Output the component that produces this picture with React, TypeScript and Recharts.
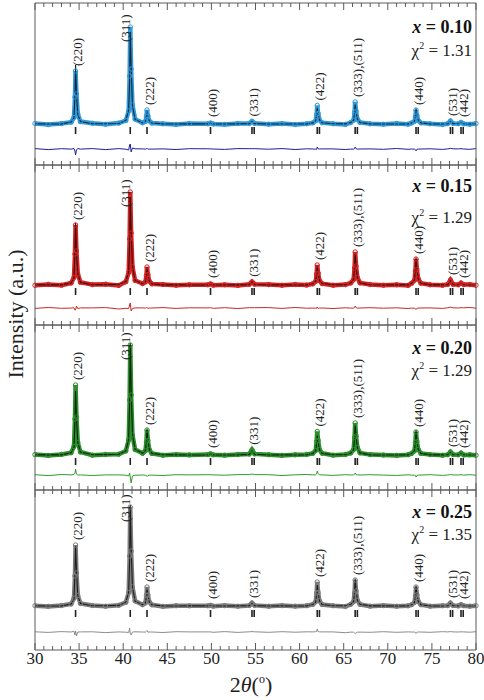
import { ComposedChart, Line, Scatter, XAxis, YAxis } from 'recharts';

// 2θ sampling grid (deg), shared by the four refinements
const twoTheta = [
  30.0, 31.5, 33.0,
  34.1, 34.42, 34.53, 34.6, 34.7, 34.85, 35.15,
  36.5, 38.0, 39.5,
  40.3, 40.62, 40.73, 40.8, 40.9, 41.05, 41.35,
  42.2, 42.52, 42.63, 42.7, 42.8, 42.95, 43.25,
  44.5, 46.0, 47.5,
  49.6, 49.9, 50.2,
  51.5, 53.0,
  54.3, 54.6, 54.9,
  56.5, 58.0, 59.5, 60.8,
  61.5, 61.83, 61.93, 62.0, 62.1, 62.25, 62.55,
  63.8, 65.2,
  65.8, 66.13, 66.23, 66.3, 66.4, 66.55, 66.85,
  68.0, 69.5, 71.0, 72.3,
  72.7, 73.03, 73.13, 73.2, 73.3, 73.45, 73.75,
  74.8, 76.2,
  76.8, 77.1, 77.4,
  78.0, 78.3, 78.6,
  79.3, 80.0,
];

// x = 0.10
const obs010 = [
  0.5, -0.6, 0.4,
  1.8, 6.5, 27, 53, 30, 10, 2.4,
  0.7, -0.3, 0.9,
  3.4, 13, 48, 97, 55, 19, 4.8,
  1.2, 2.5, 7.5, 14, 8.2, 3.1, 0.9,
  0.2, -0.5, 0.4,
  0.3, 1.0, 0.1,
  -0.4, 0.5,
  0.6, 2.6, 0.7,
  -0.2, 0.4, -0.5, 0.3,
  1.1, 3.2, 9.5, 18.5, 10.5, 4.0, 1.3,
  0.3, -0.4,
  1.4, 3.8, 11.5, 22, 12.8, 4.9, 1.5,
  0.2, -0.3, 0.5, -0.2,
  1.0, 2.6, 7.3, 14, 8.5, 3.6, 1.1,
  0.3, -0.4,
  0.4, 3.0, 0.6,
  0.3, 1.6, 0.2,
  -0.3, 0.4,
];
const calc010 = [
  0.1, 0.0, 0.1,
  1.9, 6.0, 29, 59, 31, 9.5, 2.5,
  0.3, 0.3, 0.5,
  3.6, 14, 44, 92, 58, 18, 4.6,
  1.1, 2.6, 7.2, 13.2, 8.4, 3.2, 1.0,
  0.1, 0.0, 0.1,
  0.1, 0.9, 0.1,
  0.0, 0.1,
  0.3, 2.3, 0.4,
  0.0, 0.0, 0.0, 0.1,
  1.1, 3.4, 9.8, 16.5, 10.2, 4.0, 1.2,
  0.2, 0.1,
  1.5, 3.9, 11.0, 20, 12.5, 5.0, 1.5,
  0.1, 0.0, 0.0, 0.1,
  1.0, 2.8, 8.0, 15.8, 8.8, 3.7, 1.1,
  0.1, 0.0,
  0.3, 2.4, 0.4,
  0.2, 1.3, 0.2,
  0.0, 0.0,
];

// x = 0.15
const obs015 = [
  -0.3, 0.6, -0.2,
  2.0, 7.5, 31, 60, 34, 11, 2.7,
  0.4, 0.8, -0.4,
  3.2, 12.5, 46, 93, 52, 18, 4.5,
  1.4, 3.0, 9.5, 18, 10.5, 4.0, 1.1,
  0.5, -0.3, 0.2,
  0.2, 1.1, -0.2,
  0.3, -0.4,
  0.7, 3.2, 0.8,
  0.4, -0.3, 0.5, -0.1,
  1.2, 3.6, 11, 20, 11.8, 4.5, 1.4,
  -0.3, 0.4,
  2.0, 5.5, 17, 33, 19, 7.4, 2.1,
  0.5, -0.2, 0.3, -0.4,
  1.7, 4.8, 14, 26, 15.5, 6.2, 1.8,
  0.2, -0.3,
  0.6, 5.0, 0.7,
  0.2, 2.0, 0.4,
  0.5, -0.2,
];
const calc015 = [
  0.1, 0.1, 0.1,
  2.1, 7.2, 33, 62, 32, 11.5, 2.6,
  0.3, 0.4, 0.6,
  3.5, 13, 43, 88, 55, 18.5, 4.4,
  1.3, 3.1, 9.2, 17.5, 10.8, 4.1, 1.1,
  0.1, 0.1, 0.0,
  0.1, 0.8, 0.1,
  0.0, 0.1,
  0.4, 2.9, 0.5,
  0.0, 0.1, 0.0, 0.1,
  1.3, 3.8, 11.4, 19, 12.2, 4.6, 1.4,
  0.2, 0.2,
  2.1, 5.6, 16.5, 31, 18.6, 7.5, 2.1,
  0.2, 0.0, 0.1, 0.1,
  1.8, 5.0, 14.6, 27.5, 15.8, 6.3, 1.8,
  0.1, 0.1,
  0.4, 4.2, 0.5,
  0.2, 1.7, 0.2,
  0.0, 0.0,
];

// x = 0.20
const obs020 = [
  0.4, -0.5, 0.6,
  2.3, 8.5, 36, 70, 38, 12.5, 3.0,
  -0.2, 0.5, 0.8,
  4.0, 15, 55, 110, 60, 20, 5.4,
  1.7, 4.2, 13, 25, 14.5, 5.6, 1.5,
  -0.3, 0.4, 0.1,
  0.4, 1.2, 0.2,
  -0.2, 0.5,
  1.0, 5.2, 1.1,
  0.3, -0.4, 0.2, 0.6,
  1.6, 4.5, 13.5, 23.5, 14.6, 5.4, 1.7,
  -0.2, 0.5,
  2.0, 5.5, 17.5, 32, 19, 7.4, 2.1,
  0.4, -0.1, -0.4, 0.3,
  1.5, 4.2, 12.5, 23, 13.5, 5.5, 1.6,
  0.4, -0.3,
  0.3, 3.0, 0.5,
  0.2, 2.0, 0.1,
  0.3, -0.2,
];
const calc020 = [
  0.1, 0.1, 0.1,
  2.2, 8.0, 34, 64, 37, 12.5, 2.9,
  0.3, 0.4, 0.7,
  4.2, 16, 53, 112, 68, 21, 5.6,
  1.7, 4.4, 13.5, 26.5, 15, 5.8, 1.6,
  0.2, 0.1, 0.0,
  0.1, 0.9, 0.1,
  0.0, 0.1,
  0.6, 4.2, 0.7,
  0.0, 0.1, 0.0, 0.1,
  1.5, 4.3, 12.5, 19.5, 13.0, 5.2, 1.6,
  0.2, 0.2,
  2.0, 5.4, 16.8, 30, 18.6, 7.3, 2.1,
  0.1, 0.0, 0.0, 0.1,
  1.6, 4.4, 13, 25, 14, 5.6, 1.6,
  0.1, 0.1,
  0.3, 2.6, 0.4,
  0.2, 1.7, 0.2,
  0.0, 0.0,
];

// x = 0.25
const obs025 = [
  0.3, -0.4, 0.5,
  2.0, 7.8, 30, 61, 33, 10.5, 2.6,
  0.5, -0.3, 0.7,
  3.6, 13.5, 50, 99, 55, 19, 5.0,
  1.3, 3.0, 10.5, 19, 11, 4.2, 1.2,
  -0.4, 0.3, 0.2,
  0.2, 0.7, -0.2,
  0.4, -0.3,
  0.5, 3.0, 0.6,
  -0.3, 0.4, -0.2, 0.3,
  1.5, 4.3, 13, 24, 13.5, 5.2, 1.5,
  0.3, -0.5,
  1.6, 4.4, 13, 26, 15, 5.6, 1.6,
  -0.2, 0.4, -0.3, 0.2,
  1.3, 3.5, 10, 19, 11.3, 4.6, 1.3,
  -0.2, 0.3,
  0.4, 3.0, 0.5,
  0.1, 1.5, 0.3,
  -0.2, 0.3,
];
const calc025 = [
  0.1, 0.0, 0.1,
  2.0, 7.0, 33, 60, 37, 10.5, 2.5,
  0.3, 0.3, 0.6,
  3.8, 14, 46, 101, 58, 19, 4.8,
  1.3, 3.1, 9.8, 17.5, 11.2, 4.2, 1.2,
  0.1, 0.0, 0.1,
  0.1, 0.6, 0.1,
  0.0, 0.1,
  0.3, 2.6, 0.4,
  0.0, 0.1, 0.0, 0.1,
  1.4, 4.0, 12.4, 21, 13.2, 5.0, 1.4,
  0.2, 0.2,
  1.7, 4.6, 14, 27.5, 16, 5.8, 1.7,
  0.1, 0.1, 0.0, 0.1,
  1.3, 3.6, 10.4, 20.5, 11.6, 4.6, 1.3,
  0.1, 0.0,
  0.3, 2.6, 0.4,
  0.1, 1.3, 0.2,
  0.0, 0.0,
];

const observed = [obs010, obs015, obs020, obs025];
const calculated = [calc010, calc015, calc020, calc025];

// reflections: Kα1 positions, plus Kα2 partners resolved at high angle
const hkl = ['(220)', '(311)', '(222)', '(400)', '(331)', '(422)', '(333),(511)', '(440)', '(531)', '(442)'];
const braggPos = [34.6, 40.8, 42.7, 49.9, 54.6, 62.0, 66.3, 73.2, 77.1, 78.3];
const braggK2 = [54.85, 62.25, 66.55, 73.45, 77.35, 78.55];

const compositions = ['0.10', '0.15', '0.20', '0.25'];
const chiSquared = ['1.31', '1.29', '1.29', '1.35'];

const xTicks = [
  30, 31, 32, 33, 34, 35, 36, 37, 38, 39, 40, 41, 42, 43, 44, 45, 46,
  47, 48, 49, 50, 51, 52, 53, 54, 55, 56, 57, 58, 59, 60, 61, 62, 63,
  64, 65, 66, 67, 68, 69, 70, 71, 72, 73, 74, 75, 76, 77, 78, 79, 80,
];

const FONT = "'Liberation Serif', 'Times New Roman', serif";
const FRAME = '#5a5a5a';

const panelStyles = [
  { top: 3, height: 162, domain: [-41, 121], diffBase: -25, braggY: -6.5, obs: '#2f9ad6', calc: '#10233f', diff: '#1d1d9c', textY: [27, 50] },
  { top: 165, height: 160, domain: [-40, 120], diffBase: -23, braggY: -6.5, obs: '#d32424', calc: '#3d0808', diff: '#cc2626', textY: [186, 217] },
  { top: 325, height: 165, domain: [-35, 130], diffBase: -20, braggY: -6.5, obs: '#2d8e2d', calc: '#082508', diff: '#2c9c2c', textY: [348, 370] },
  { top: 490, height: 160, domain: [-44, 116], diffBase: -26, braggY: -7.5, obs: '#7c7c7c', calc: '#1e1e1e', diff: '#8c8c8c', textY: [512, 534] },
];

function peakHeight(obs: number[], pos: number) {
  let h = 0;
  twoTheta.forEach((t, i) => {
    if (Math.abs(t - pos) <= 0.12) h = Math.max(h, obs[i]);
  });
  return h;
}

function AxisTick(props: any) {
  const { x, y, payload, side, labelled } = props;
  const v = payload.value;
  const major = v % 5 === 0;
  const len = major ? 7 : 4;
  const dir = side === 'bottom' ? -1 : 1;
  return (
    <g>
      <line x1={x} x2={x} y1={y} y2={y + dir * len} stroke={FRAME} strokeWidth={1} />
      {labelled && major && (
        <text x={x} y={y + 14} textAnchor="middle" fontSize={17} fontFamily={FONT} fill="#222">
          {v}
        </text>
      )}
    </g>
  );
}

function BraggTick(props: any) {
  const { cx, cy } = props;
  return <line x1={cx} x2={cx} y1={cy - 3.5} y2={cy + 3.5} stroke="#222" strokeWidth={1.6} />;
}

function HklLabel(props: any) {
  const { cx, cy, payload } = props;
  // (311) sits against the left flank of its peak, the others just right of the tick
  const x = payload.hkl === '(311)' ? cx - 5 : cx + 2;
  return (
    <text
      x={x}
      y={cy}
      transform={`rotate(-90 ${x} ${cy})`}
      textAnchor="start"
      dominantBaseline="central"
      fontSize={13}
      fontFamily={FONT}
      fill="#222"
    >
      {payload.hkl}
    </text>
  );
}

function Panel({ idx }: { idx: number }) {
  const s = panelStyles[idx];
  const last = idx === panelStyles.length - 1;
  const obs = observed[idx];
  const calc = calculated[idx];
  const rows = twoTheta.map((x, i) => ({
    x,
    obs: obs[i],
    calc: calc[i],
    diff: obs[i] - calc[i] + s.diffBase,
  }));
  const bragg = braggPos.concat(braggK2).map((x) => ({ x, y: s.braggY }));
  const labels = hkl.map((t, k) => {
    const h = peakHeight(obs, braggPos[k]);
    return { x: braggPos[k], y: t === '(311)' ? h - 15 : Math.max(h, 2) + 5, hkl: t };
  });
  const extra = last ? 40 : 0;

  // axes are 1px thick bands, so the plot area spans exactly s.top .. s.top + s.height
  return (
    <div style={{ position: 'absolute', left: 0, top: s.top - 1 }}>
      <ComposedChart
        width={484}
        height={s.height + 2 + extra}
        data={rows}
        margin={{ top: 0, right: 7, bottom: extra, left: 34 }}
      >
        <XAxis
          dataKey="x"
          type="number"
          domain={[30, 80]}
          ticks={xTicks}
          interval={0}
          height={1}
          tickSize={0}
          tickMargin={0}
          tickLine={false}
          axisLine={{ stroke: FRAME }}
          tick={(p: any) => <AxisTick {...p} side="bottom" labelled={last} />}
        />
        <XAxis
          xAxisId="top"
          orientation="top"
          dataKey="x"
          type="number"
          domain={[30, 80]}
          ticks={xTicks}
          interval={0}
          height={1}
          tickSize={0}
          tickMargin={0}
          tickLine={false}
          axisLine={{ stroke: FRAME }}
          tick={(p: any) => <AxisTick {...p} side="top" labelled={false} />}
        />
        <YAxis type="number" domain={s.domain} width={1} tick={false} tickLine={false} axisLine={{ stroke: FRAME }} />
        <YAxis
          yAxisId="r"
          orientation="right"
          type="number"
          domain={s.domain}
          width={1}
          tick={false}
          tickLine={false}
          axisLine={{ stroke: FRAME }}
        />
        <Line
          dataKey="obs"
          type="linear"
          stroke={s.obs}
          strokeWidth={4.5}
          dot={{ r: 2.2, stroke: s.obs, strokeWidth: 1, fill: 'none' }}
          isAnimationActive={false}
        />
        <Line dataKey="calc" type="linear" stroke={s.calc} strokeWidth={1.1} dot={false} isAnimationActive={false} />
        <Line dataKey="diff" type="linear" stroke={s.diff} strokeWidth={1} dot={false} isAnimationActive={false} />
        <Scatter data={bragg} dataKey="y" shape={BraggTick} isAnimationActive={false} />
        <Scatter data={labels} dataKey="y" shape={HklLabel} isAnimationActive={false} />
      </ComposedChart>
    </div>
  );
}

export default function App() {
  return (
    <div style={{ position: 'absolute', left: 0, top: 0, width: 484, height: 700, background: '#fff' }}>
      {panelStyles.map((_, i) => (
        <Panel key={i} idx={i} />
      ))}
      <svg
        width={484}
        height={700}
        style={{ position: 'absolute', left: 0, top: 0, pointerEvents: 'none' }}
        fontFamily={FONT}
      >
        <text
          x={15}
          y={314}
          transform="rotate(-90 15 314)"
          textAnchor="middle"
          dominantBaseline="central"
          fontSize={22}
          fill="#222"
        >
          Intensity (a.u.)
        </text>
        <text x={251} y={692} textAnchor="middle" fontSize={22} fill="#222">
          2<tspan fontStyle="italic">θ</tspan>(<tspan fontSize={12} dy={-9}>o</tspan>
          <tspan dy={9}>)</tspan>
        </text>
        {panelStyles.map((s, i) => (
          <g key={i}>
            <text x={472} y={s.textY[0] + 6} textAnchor="end" fontSize={18} fontWeight="bold" fill="#111">
              <tspan fontStyle="italic">x</tspan> = {compositions[i]}
            </text>
            <text x={472} y={s.textY[1] + 6} textAnchor="end" fontSize={17} fill="#222">
              χ<tspan fontSize={10} dy={-7}>2</tspan>
              <tspan dy={7}> = {chiSquared[i]}</tspan>
            </text>
          </g>
        ))}
      </svg>
    </div>
  );
}
